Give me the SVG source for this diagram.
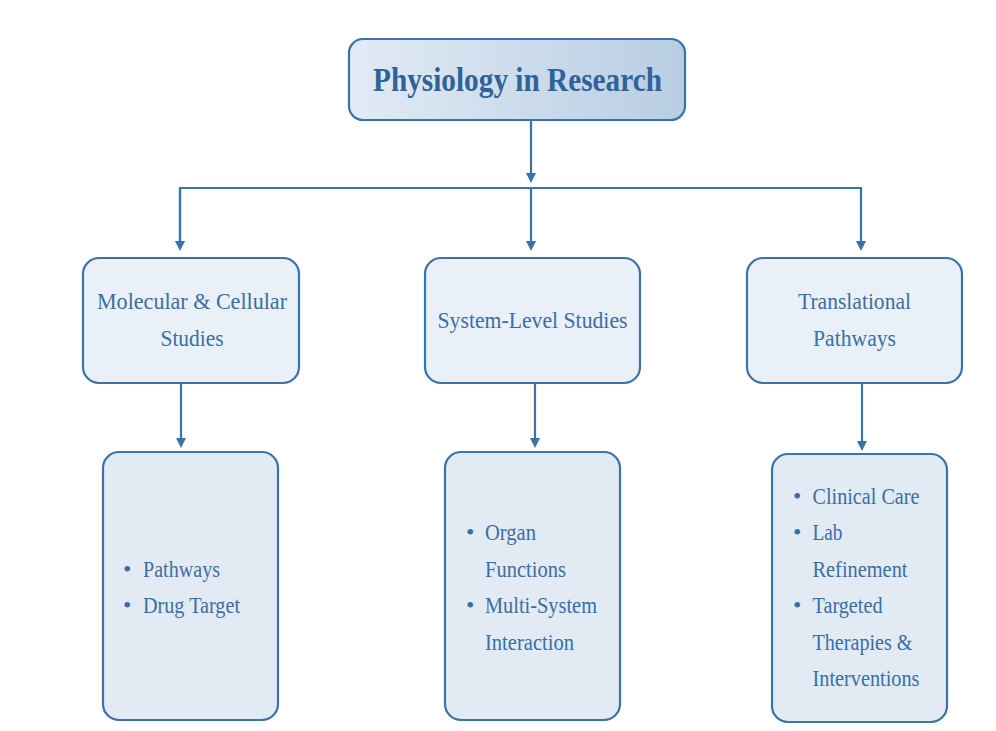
<svg xmlns="http://www.w3.org/2000/svg" width="996" height="731" viewBox="0 0 996 731">
<defs>
<linearGradient id="tg" x1="0" y1="0" x2="1" y2="0">
<stop offset="0" stop-color="#e2ebf5"/>
<stop offset="1" stop-color="#b8cde3"/>
</linearGradient>
<marker id="ah" markerWidth="10" markerHeight="10" refX="5" refY="5" orient="auto" markerUnits="userSpaceOnUse">
<path d="M0,0 L10,5 L0,10 z" fill="#3a72aa"/>
</marker>
<style>
.box{fill:#e9f0f8;stroke:#3a72aa;stroke-width:2.2}
.lbox{fill:#e2eaf3;stroke:#3a72aa;stroke-width:2.2}
.t{font-family:"Liberation Serif","Times New Roman",serif;font-size:24px;fill:#3a6ea5}
.title{font-family:"Liberation Serif","Times New Roman",serif;font-size:34px;font-weight:bold;fill:#2f6398}
.c{stroke:#3a72aa;stroke-width:2.2;fill:none}
</style>
</defs>
<rect width="996" height="731" fill="#ffffff"/>
<g id="connectors">
<line class="c" x1="531" y1="120" x2="531" y2="178" marker-end="url(#ah)"/>
<polyline class="c" points="180,246 180,188 861,188 861,246" marker-end="url(#ah)"/>
<line class="c" x1="531" y1="188" x2="531" y2="246" marker-end="url(#ah)"/>
<line class="c" x1="181" y1="383" x2="181" y2="443" marker-end="url(#ah)"/>
<line class="c" x1="535" y1="383" x2="535" y2="443" marker-end="url(#ah)"/>
<line class="c" x1="862" y1="383" x2="862" y2="446" marker-end="url(#ah)"/>
<line class="c" x1="180" y1="188" x2="180" y2="246" marker-end="url(#ah)"/>
</g>
<g id="root">
<rect x="349" y="39" width="336" height="81" rx="14" fill="url(#tg)" stroke="#3a72aa" stroke-width="2.2"/>
<text class="title" x="517.5" y="91" text-anchor="middle" textLength="289" lengthAdjust="spacingAndGlyphs">Physiology in Research</text>
</g>
<g id="molecular">
<rect class="box" x="83" y="258" width="216" height="125" rx="16"/>
<text class="t" x="192" y="309" text-anchor="middle" textLength="190" lengthAdjust="spacingAndGlyphs">Molecular &amp; Cellular</text>
<text class="t" x="192" y="346" text-anchor="middle" textLength="63" lengthAdjust="spacingAndGlyphs">Studies</text>
</g>
<g id="system">
<rect class="box" x="425" y="258" width="215" height="125" rx="16"/>
<text class="t" x="532.5" y="328" text-anchor="middle" textLength="190" lengthAdjust="spacingAndGlyphs">System-Level Studies</text>
</g>
<g id="translational">
<rect class="box" x="747" y="258" width="215" height="125" rx="16"/>
<text class="t" x="854.5" y="309" text-anchor="middle" textLength="113" lengthAdjust="spacingAndGlyphs">Translational</text>
<text class="t" x="854.5" y="346" text-anchor="middle" textLength="83" lengthAdjust="spacingAndGlyphs">Pathways</text>
</g>
<g id="molecular-details">
<rect class="lbox" x="103" y="452" width="175" height="268" rx="16"/>
<text class="t" x="123" y="577">•</text>
<text class="t" x="143" y="577" textLength="77" lengthAdjust="spacingAndGlyphs">Pathways</text>
<text class="t" x="123" y="613">•</text>
<text class="t" x="143" y="613" textLength="97" lengthAdjust="spacingAndGlyphs">Drug Target</text>
</g>
<g id="system-details">
<rect class="lbox" x="445" y="452" width="175" height="268" rx="16"/>
<text class="t" x="466" y="540">•</text>
<text class="t" x="485" y="540" textLength="51" lengthAdjust="spacingAndGlyphs">Organ</text>
<text class="t" x="485" y="577" textLength="81" lengthAdjust="spacingAndGlyphs">Functions</text>
<text class="t" x="466" y="613">•</text>
<text class="t" x="485" y="613" textLength="112" lengthAdjust="spacingAndGlyphs">Multi-System</text>
<text class="t" x="485" y="650" textLength="89" lengthAdjust="spacingAndGlyphs">Interaction</text>
</g>
<g id="translational-details">
<rect class="lbox" x="772" y="454" width="175" height="268" rx="16"/>
<text class="t" x="793" y="504">•</text>
<text class="t" x="812.5" y="504" textLength="107" lengthAdjust="spacingAndGlyphs">Clinical Care</text>
<text class="t" x="793" y="540">•</text>
<text class="t" x="812.5" y="540" textLength="30" lengthAdjust="spacingAndGlyphs">Lab</text>
<text class="t" x="812.5" y="577" textLength="95" lengthAdjust="spacingAndGlyphs">Refinement</text>
<text class="t" x="793" y="613">•</text>
<text class="t" x="812.5" y="613" textLength="70" lengthAdjust="spacingAndGlyphs">Targeted</text>
<text class="t" x="812.5" y="650" textLength="100" lengthAdjust="spacingAndGlyphs">Therapies &amp;</text>
<text class="t" x="812.5" y="686" textLength="107" lengthAdjust="spacingAndGlyphs">Interventions</text>
</g>
</svg>
